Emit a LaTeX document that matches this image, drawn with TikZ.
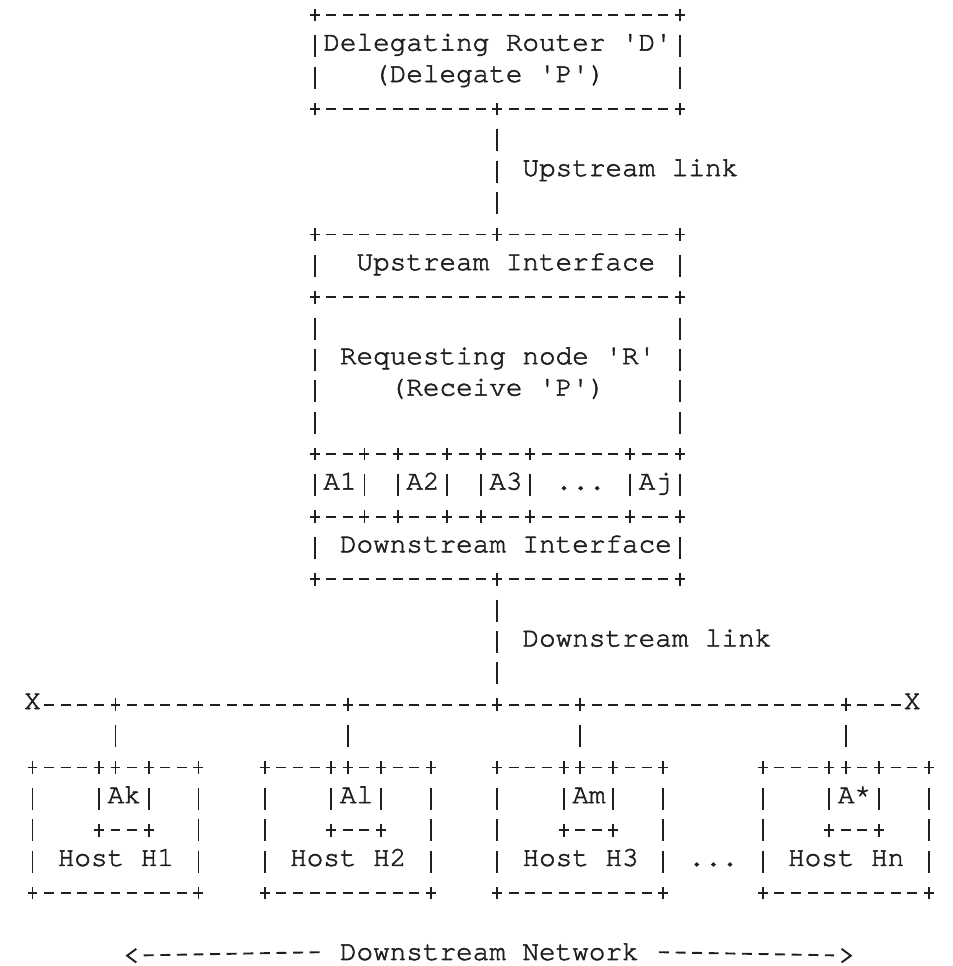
\documentclass[tikz,border=0pt]{standalone}
\usepackage{fontspec}
\usepackage{tikz}
\newfontfamily\cursor{texgyrecursor-regular.otf}[Ligatures=TeXOff,FakeBold=2]
\definecolor{ink}{rgb}{0.12,0.12,0.12}

\begin{document}
\begin{tikzpicture}[x=8.3pt,y=-15.68pt,line cap=butt,
  txt/.style={font=\cursor\fontsize{13.83pt}{15.68pt}\selectfont,inner sep=0pt,anchor=mid west,text=ink},
  glyph/.style={draw=ink,line width=0.95pt},
  hd/.style={glyph,dash pattern=on 4.98pt off 3.32pt,shorten <=-2.49pt,shorten >=-2.49pt},
  vd/.style={glyph,dash pattern=on 10.98pt off 4.70pt,dash phase=13.33pt,shorten <=7.84pt,shorten >=7.84pt}]
\useasboundingbox (-1.958,0.522) rectangle (55.45,31.33);
\draw[hd] (17,1) -- (39,1);
\draw[hd] (17,4) -- (39,4);
\draw[vd] (17,1) -- (17,4);
\draw[vd] (39,1) -- (39,4);
\node[txt] (dr1) at (17.5,2) {Delegating Router 'D'};
\node[txt] (dr2) at (20.5,3) {(Delegate 'P')};
\coordinate (drS) at (28,4);
\coordinate (uiN) at (28,8);
\draw[vd] (drS) -- (uiN);
\node[txt] (uplink) at (29.5,6) {Upstream link};
\draw[hd] (17,8) -- (39,8);
\draw[hd] (17,10) -- (39,10);
\draw[hd] (17,15) -- (39,15);
\draw[hd] (17,17) -- (39,17);
\draw[hd] (17,19) -- (39,19);
\draw[vd] (17,8) -- (17,10);
\draw[vd] (39,8) -- (39,10);
\draw[vd] (17,10) -- (17,15);
\draw[vd] (39,10) -- (39,15);
\draw[vd] (17,15) -- (17,17);
\draw[vd] (39,15) -- (39,17);
\draw[vd] (17,17) -- (17,19);
\draw[vd] (39,17) -- (39,19);
\draw[vd] (20,15) -- (20,17);
\draw[vd] (22,15) -- (22,17);
\draw[vd] (25,15) -- (25,17);
\draw[vd] (27,15) -- (27,17);
\draw[vd] (30,15) -- (30,17);
\draw[vd] (36,15) -- (36,17);
\node[txt] (ui) at (19.5,9) {Upstream Interface};
\node[txt] (rn1) at (18.5,12) {Requesting node 'R'};
\node[txt] (rn2) at (21.5,13) {(Receive 'P')};
\node[txt] (a1) at (17.5,16) {A1};
\node[txt] (a2) at (22.5,16) {A2};
\node[txt] (a3) at (27.5,16) {A3};
\node[txt] (adots) at (31.5,16) {...};
\node[txt] (aj) at (36.5,16) {Aj};
\node[txt] (di) at (18.5,18) {Downstream Interface};
\coordinate (diS) at (28,19);
\coordinate (busM) at (28,23);
\draw[vd] (diS) -- (busM);
\node[txt] (downlink) at (29.5,21) {Downstream link};
\node[txt,anchor=mid] (xl) at (0,23) {X};
\node[txt,anchor=mid] (xr) at (53,23) {X};
\draw[hd,shorten <=5.81pt,shorten >=5.81pt] (xl.mid) -- (xr.mid);
\coordinate (j1) at (5,23);
\coordinate (j2) at (19,23);
\coordinate (j3) at (33,23);
\coordinate (j4) at (49,23);
\coordinate (t1) at (5,25);
\coordinate (t2) at (19,25);
\coordinate (t3) at (33,25);
\coordinate (t4) at (49,25);
\draw[vd] (j1) -- (t1);
\draw[vd] (j2) -- (t2);
\draw[vd] (j3) -- (t3);
\draw[vd] (j4) -- (t4);
\draw[hd] (0,25) -- (10,25);
\draw[hd] (4,27) -- (7,27);
\draw[hd] (0,29) -- (10,29);
\draw[vd] (0,25) -- (0,29);
\draw[vd] (10,25) -- (10,29);
\draw[vd] (4,25) -- (4,27);
\draw[vd] (7,25) -- (7,27);
\node[txt] (ak) at (4.5,26) {Ak};
\node[txt] (h1) at (1.5,28) {Host H1};
\draw[hd] (14,25) -- (24,25);
\draw[hd] (18,27) -- (21,27);
\draw[hd] (14,29) -- (24,29);
\draw[vd] (14,25) -- (14,29);
\draw[vd] (24,25) -- (24,29);
\draw[vd] (18,25) -- (18,27);
\draw[vd] (21,25) -- (21,27);
\node[txt] (al) at (18.5,26) {Al};
\node[txt] (h2) at (15.5,28) {Host H2};
\draw[hd] (28,25) -- (38,25);
\draw[hd] (32,27) -- (35,27);
\draw[hd] (28,29) -- (38,29);
\draw[vd] (28,25) -- (28,29);
\draw[vd] (38,25) -- (38,29);
\draw[vd] (32,25) -- (32,27);
\draw[vd] (35,25) -- (35,27);
\node[txt] (am) at (32.5,26) {Am};
\node[txt] (h3) at (29.5,28) {Host H3};
\node[txt] (hdots) at (39.5,28) {...};
\draw[hd] (44,25) -- (54,25);
\draw[hd] (48,27) -- (51,27);
\draw[hd] (44,29) -- (54,29);
\draw[vd] (44,25) -- (44,29);
\draw[vd] (54,25) -- (54,29);
\draw[vd] (48,25) -- (48,27);
\draw[vd] (51,25) -- (51,27);
\node[txt] (astar) at (48.5,26) {A*};
\node[txt] (hn) at (45.5,28) {Host Hn};
\foreach \c/\r in {17/1,39/1,17/4,28/4,39/4,17/8,28/8,39/8,17/10,39/10,
    17/15,20/15,22/15,25/15,27/15,30/15,36/15,39/15,
    17/17,20/17,22/17,25/17,27/17,30/17,36/17,39/17,17/19,28/19,39/19,
    5/23,19/23,28/23,33/23,49/23,
    0/25,4/25,5/25,7/25,10/25,14/25,18/25,19/25,21/25,24/25,
    28/25,32/25,33/25,35/25,38/25,44/25,48/25,49/25,51/25,54/25,
    4/27,7/27,18/27,21/27,32/27,35/27,48/27,51/27,
    0/29,10/29,14/29,24/29,28/29,38/29,44/29,54/29}
  \draw[glyph] (\c,\r) +(0,-3.2pt) -- +(0,3.2pt);
\node[txt] (net) at (18.5,31) {Downstream Network};
\coordinate (ltip) at (5.7,31);
\coordinate (rtip) at (49.3,31);
\draw[hd,shorten <=9.96pt,shorten >=8.3pt] (net.west) -- (ltip);
\draw[hd,shorten <=9.96pt,shorten >=8.3pt] (net.east) -- (rtip);
\draw[glyph] (ltip) +(4.6pt,3.4pt) -- (ltip) -- +(4.6pt,-3.4pt);
\draw[glyph] (rtip) +(-4.6pt,3.4pt) -- (rtip) -- +(-4.6pt,-3.4pt);
\end{tikzpicture}
\end{document}
